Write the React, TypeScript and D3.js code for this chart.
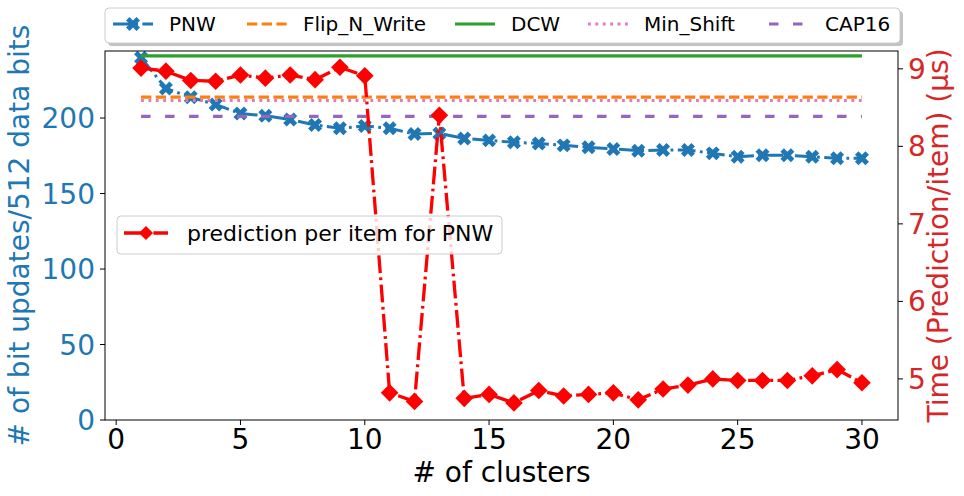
import React from "react";
import * as d3 from "d3";

// clusters on the x axis
const clusters = d3.range(1, 31);

// bit updates per 512 data bits (left axis)
const pnw = [240, 219.6, 213.7, 209, 203, 201.5, 199, 195.4, 193.2, 194.7,
    193.2, 189.4, 189.8, 186.5, 185.2, 183.9, 183.2, 181.9, 180.6, 179.5,
    178.4, 178.8, 178.8, 176.6, 174.4, 175.3, 175.3, 174.4, 173.3, 173.3];
const flipNWrite = 213.9;
const dcw = 241.2;
const minShift = 211.6;
const cap16 = 201.1;

// prediction time per item, microseconds (right axis)
const predTime = [9.01, 8.97, 8.85, 8.84, 8.92, 8.88, 8.92, 8.86, 9.02, 8.91,
    4.82, 4.71, 8.40, 4.75, 4.80, 4.69, 4.85, 4.78, 4.80, 4.82,
    4.73, 4.87, 4.92, 5.00, 4.98, 4.98, 4.98, 5.04, 5.12, 4.95];

const xTicks = [0, 5, 10, 15, 20, 25, 30];
const leftTicks = [0, 50, 100, 150, 200];
const rightTicks = [5, 6, 7, 8, 9];

const legendNames = ["PNW", "Flip_N_Write", "DCW", "Min_Shift", "CAP16"];
const predLabel = "prediction per item for PNW";

const FONT = "DejaVu Sans";
const BLUE = "#1f77b4";
const RED = "#d62728";

export default function App() {
    const W = 964, H = 496;
    const left = 105, right = 898, top = 51, bottom = 420;

    const x = d3.scaleLinear().domain([-0.45, 31.45]).range([left, right]);
    const yL = d3.scaleLinear().domain([0, 244.4]).range([bottom, top]);
    const yR = d3.scaleLinear().domain([4.47, 9.23]).range([bottom, top]);

    const pnwLine = d3.line<number>().x((d, i) => x(clusters[i])).y(d => yL(d))(pnw) || "";
    const predLine = d3.line<number>().x((d, i) => x(clusters[i])).y(d => yR(d))(predTime) || "";

    const xMark = d3.symbol(d3.symbolCross, 122)() || "";
    const diamond = d3.symbol(d3.symbolSquare, 156)() || "";
    const diamondSmall = d3.symbol(d3.symbolSquare, 100)() || "";

    const x0 = x(1), x1 = x(30);

    // line styles for the five series in the top legend
    const styles = [
        {color: BLUE, dash: "17.8,4.4,2.8,4.4", marker: true},
        {color: "#ff7f0e", dash: "10.3,4.4", marker: false},
        {color: "#2ca02c", dash: "", marker: false},
        {color: "#e377c2", dash: "2.8,4.6", marker: false},
        {color: "#9467bd", dash: "9.5,14.5", marker: false},
    ];
    const hlines = [flipNWrite, dcw, minShift, cap16];
    const legendX = [113, 247, 455, 588, 769];

    return (
        <svg width={W} height={H} style={{position: "absolute", left: 0, top: 0, background: "#fff"}}
             fontFamily={FONT}>
            {/* PNW */}
            <path d={pnwLine} fill="none" stroke={BLUE} strokeWidth={3} strokeDasharray={styles[0].dash}/>
            {pnw.map((d, i) => (
                <path key={"m" + i} d={xMark} fill={BLUE}
                      transform={`translate(${x(clusters[i])},${yL(d)}) rotate(45)`}/>
            ))}
            {/* horizontal reference lines */}
            {hlines.map((v, i) => (
                <line key={"h" + i} x1={x0} x2={x1} y1={yL(v)} y2={yL(v)}
                      stroke={styles[i + 1].color} strokeWidth={3.2}
                      strokeDasharray={styles[i + 1].dash}/>
            ))}
            {/* prediction time */}
            <path d={predLine} fill="none" stroke="#ff0000" strokeWidth={3.3}
                  strokeDasharray="17.8,4.4,2.8,4.4"/>
            {predTime.map((d, i) => (
                <path key={"d" + i} d={diamond} fill="#ff0000"
                      transform={`translate(${x(clusters[i])},${yR(d)}) rotate(45)`}/>
            ))}

            {/* frame */}
            <rect x={left} y={top} width={right - left} height={bottom - top} fill="none" stroke="#000" strokeWidth={1}/>

            {/* x axis */}
            {xTicks.map(t => (
                <g key={"xt" + t}>
                    <line x1={x(t)} x2={x(t)} y1={bottom} y2={bottom + 5} stroke="#000"/>
                    <text x={x(t)} y={449} fontSize={28} textAnchor="middle" fill="#000">{t}</text>
                </g>
            ))}
            <text x={(left + right) / 2} y={482} fontSize={28} textAnchor="middle" fill="#000"># of clusters</text>

            {/* left axis */}
            {leftTicks.map(t => (
                <g key={"lt" + t}>
                    <line x1={left - 5} x2={left} y1={yL(t)} y2={yL(t)} stroke="#000"/>
                    <text x={95} y={yL(t)} dy="0.36em" fontSize={28} textAnchor="end" fill={BLUE}>{t}</text>
                </g>
            ))}
            <text transform={`translate(29,${(top + bottom) / 2}) rotate(-90)`} fontSize={28}
                  textAnchor="middle" fill={BLUE}># of bit updates/512 data bits</text>

            {/* right axis */}
            {rightTicks.map(t => (
                <g key={"rt" + t}>
                    <line x1={right} x2={right + 5} y1={yR(t)} y2={yR(t)} stroke="#000"/>
                    <text x={908} y={yR(t)} dy="0.36em" fontSize={28} textAnchor="start" fill={RED}>{t}</text>
                </g>
            ))}
            <text transform={`translate(948,${(top + bottom) / 2}) rotate(-90)`} fontSize={28}
                  textAnchor="middle" fill={RED}>Time (Prediction/item) (μs)</text>

            {/* top legend */}
            <rect x={108} y={11} width={795} height={35} rx={4} fill="#888" opacity={0.5}/>
            <rect x={105} y={8} width={795} height={35} rx={4} fill="#fff" stroke="#ccc" strokeWidth={1}/>
            {legendNames.map((name, i) => {
                const s = styles[i];
                const lx = legendX[i];
                return (
                    <g key={"lg" + i}>
                        <line x1={lx} x2={lx + 40} y1={24} y2={24} stroke={s.color} strokeWidth={3}
                              strokeDasharray={s.dash}/>
                        {s.marker && <path d={xMark} fill={s.color}
                                           transform={`translate(${lx + 20},24) rotate(45)`}/>}
                        <text x={lx + 56} y={31} fontSize={20} fill="#000">{name}</text>
                    </g>
                );
            })}

            {/* prediction legend */}
            <rect x={117} y={216} width={385} height={38} rx={4} fill="#fff" fillOpacity={0.8}
                  stroke="#ccc" strokeWidth={1}/>
            <line x1={124} x2={168} y1={233} y2={233} stroke="#ff0000" strokeWidth={3.3}
                  strokeDasharray="17.8,4.4,2.8,4.4"/>
            <path d={diamondSmall} fill="#ff0000" transform="translate(146,233) rotate(45)"/>
            <text x={187} y={241} fontSize={22} fill="#000">{predLabel}</text>
        </svg>
    );
}
